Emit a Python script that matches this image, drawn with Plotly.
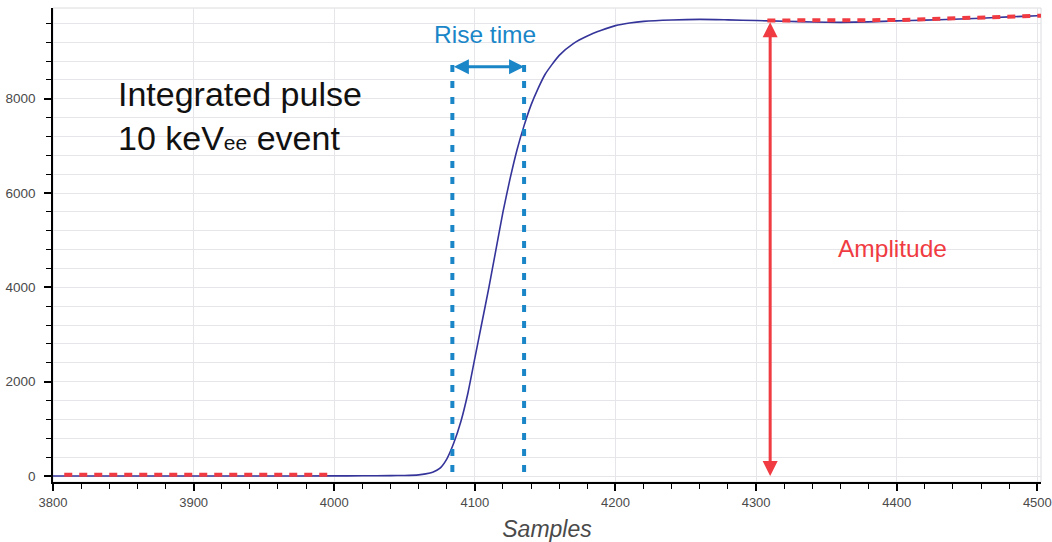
import plotly.graph_objects as go

# ---- data ----
samples = [3800, 3850, 3900, 3950, 4000, 4020, 4040, 4050, 4060, 4065, 4070, 4075,
           4080, 4085, 4090, 4095, 4100, 4105, 4110, 4115, 4120, 4125, 4130, 4135,
           4140, 4145, 4150, 4160, 4170, 4180, 4190, 4200, 4210, 4220, 4240, 4260,
           4280, 4300, 4320, 4340, 4360, 4380, 4400, 4420, 4440, 4460, 4480, 4500, 4503]
pulse = [0, 0, 0, 0, 2, 4, 8, 12, 25, 45, 80, 160,
         360, 700, 1150, 1750, 2500, 3250, 4000, 4800, 5600, 6300, 6920, 7430,
         7870, 8220, 8520, 8920, 9170, 9330, 9450, 9550, 9605, 9640, 9670, 9682,
         9672, 9658, 9642, 9628, 9620, 9630, 9652, 9666, 9684, 9708, 9735, 9760, 9765]

baseline_x = [3808, 4000]
baseline_y = [25, 25]
plateau_x = [4308, 4400, 4503]
plateau_y = [9660, 9668, 9760]

rise_start = 4084
rise_end = 4135
rise_top = 8715
rise_arrow_y = 8680

amp_x = 4310
amp_low = 0
amp_high = 9655

x_range = [3800, 4502.6]
y_range = [-127, 9924]
x_ticks = [3800, 3900, 4000, 4100, 4200, 4300, 4400, 4500]
y_ticks = [0, 2000, 4000, 6000, 8000]

RED = "#ef3b41"
BLUE = "#1a86c8"
CURVE = "#35349a"
GRID = "#e6e6ea"
TICKTXT = "#4a4a4a"

fig = go.Figure()

fig.add_trace(go.Scatter(x=samples, y=pulse, mode="lines",
                         line=dict(color=CURVE, width=1.6, shape="spline", smoothing=0.6),
                         hoverinfo="skip", showlegend=False))

fig.add_trace(go.Scatter(x=baseline_x, y=baseline_y, mode="lines",
                         line=dict(color=RED, width=4, dash="8px,7px"),
                         showlegend=False, hoverinfo="skip"))
fig.add_trace(go.Scatter(x=plateau_x, y=plateau_y, mode="lines",
                         line=dict(color=RED, width=4, dash="8px,7px"),
                         showlegend=False, hoverinfo="skip"))

for xv in (rise_start, rise_end):
    fig.add_trace(go.Scatter(x=[xv, xv], y=[rise_top, 0], mode="lines",
                             line=dict(color=BLUE, width=4, dash="7px,9px"),
                             showlegend=False, hoverinfo="skip"))

# double arrows
fig.add_annotation(x=amp_x, y=amp_low, ax=amp_x, ay=amp_high, axref="x", ayref="y",
                   xref="x", yref="y", text="", showarrow=True,
                   arrowhead=2, startarrowhead=2, arrowside="end+start",
                   arrowsize=1, startarrowsize=1, arrowwidth=3, arrowcolor=RED,
                   standoff=0, startstandoff=0)
fig.add_annotation(x=rise_end, y=rise_arrow_y, ax=rise_start, ay=rise_arrow_y,
                   axref="x", ayref="y", xref="x", yref="y", text="", showarrow=True,
                   arrowhead=2, startarrowhead=2, arrowside="end+start",
                   arrowsize=1, startarrowsize=1, arrowwidth=3, arrowcolor=BLUE,
                   standoff=0, startstandoff=0)

fig.add_annotation(x=4107, y=9367, xref="x", yref="y", text="Rise time", showarrow=False,
                   font=dict(family="Liberation Sans, Arial, sans-serif", size=24.5, color=BLUE),
                   xanchor="center", yanchor="middle")
fig.add_annotation(x=4397, y=4822, xref="x", yref="y", text="Amplitude", showarrow=False,
                   font=dict(family="Liberation Sans, Arial, sans-serif", size=24.5, color=RED),
                   xanchor="center", yanchor="middle")
fig.add_annotation(x=3845, y=7640, xref="x", yref="y",
                   text="Integrated pulse<br>10 keV<span style=\"font-size:21px\">ee</span> event",
                   showarrow=False, align="left",
                   font=dict(family="Liberation Sans, Arial, sans-serif", size=34, color="#111111"),
                   xanchor="left", yanchor="middle")

# light frame (top / right)
fig.add_shape(type="rect", xref="paper", yref="paper", x0=0, x1=1, y0=0, y1=1,
              line=dict(color="#dcdce0", width=1), layer="below")

fig.update_layout(
    width=1052, height=542,
    margin=dict(l=53, r=11, t=8, b=60, autoexpand=False),
    plot_bgcolor="white", paper_bgcolor="white",
    showlegend=False,
    font=dict(family="Liberation Sans, Arial, sans-serif", color=TICKTXT),
)

fig.update_xaxes(range=x_range, tickvals=x_ticks, showgrid=True, gridcolor=GRID, gridwidth=1,
                 automargin=False,
                 zeroline=False, showline=True, linecolor="black", linewidth=1.5,
                 ticks="outside", ticklen=7, tickwidth=1.5, tickcolor="black",
                 tickfont=dict(size=13, color=TICKTXT), ticklabelstandoff=1,
                 minor=dict(dtick=20, tick0=3800, ticks="outside", ticklen=5, tickcolor="black",
                            tickwidth=1, showgrid=False),
                 title=dict(text="<i>Samples</i>", font=dict(size=23, color=TICKTXT), standoff=13))
fig.update_yaxes(range=y_range, tickvals=y_ticks, showgrid=True, gridcolor=GRID, gridwidth=1,
                 automargin=False,
                 zeroline=False, showline=True, linecolor="black", linewidth=1.5,
                 ticks="outside", ticklen=7, tickwidth=1.5, tickcolor="black",
                 tickfont=dict(size=13.5, color=TICKTXT), ticklabelstandoff=6,
                 minor=dict(dtick=400, tick0=0, ticks="outside", ticklen=5, tickcolor="black",
                            tickwidth=1, showgrid=True, gridcolor=GRID, gridwidth=1))

fig.write_html("out.html")
